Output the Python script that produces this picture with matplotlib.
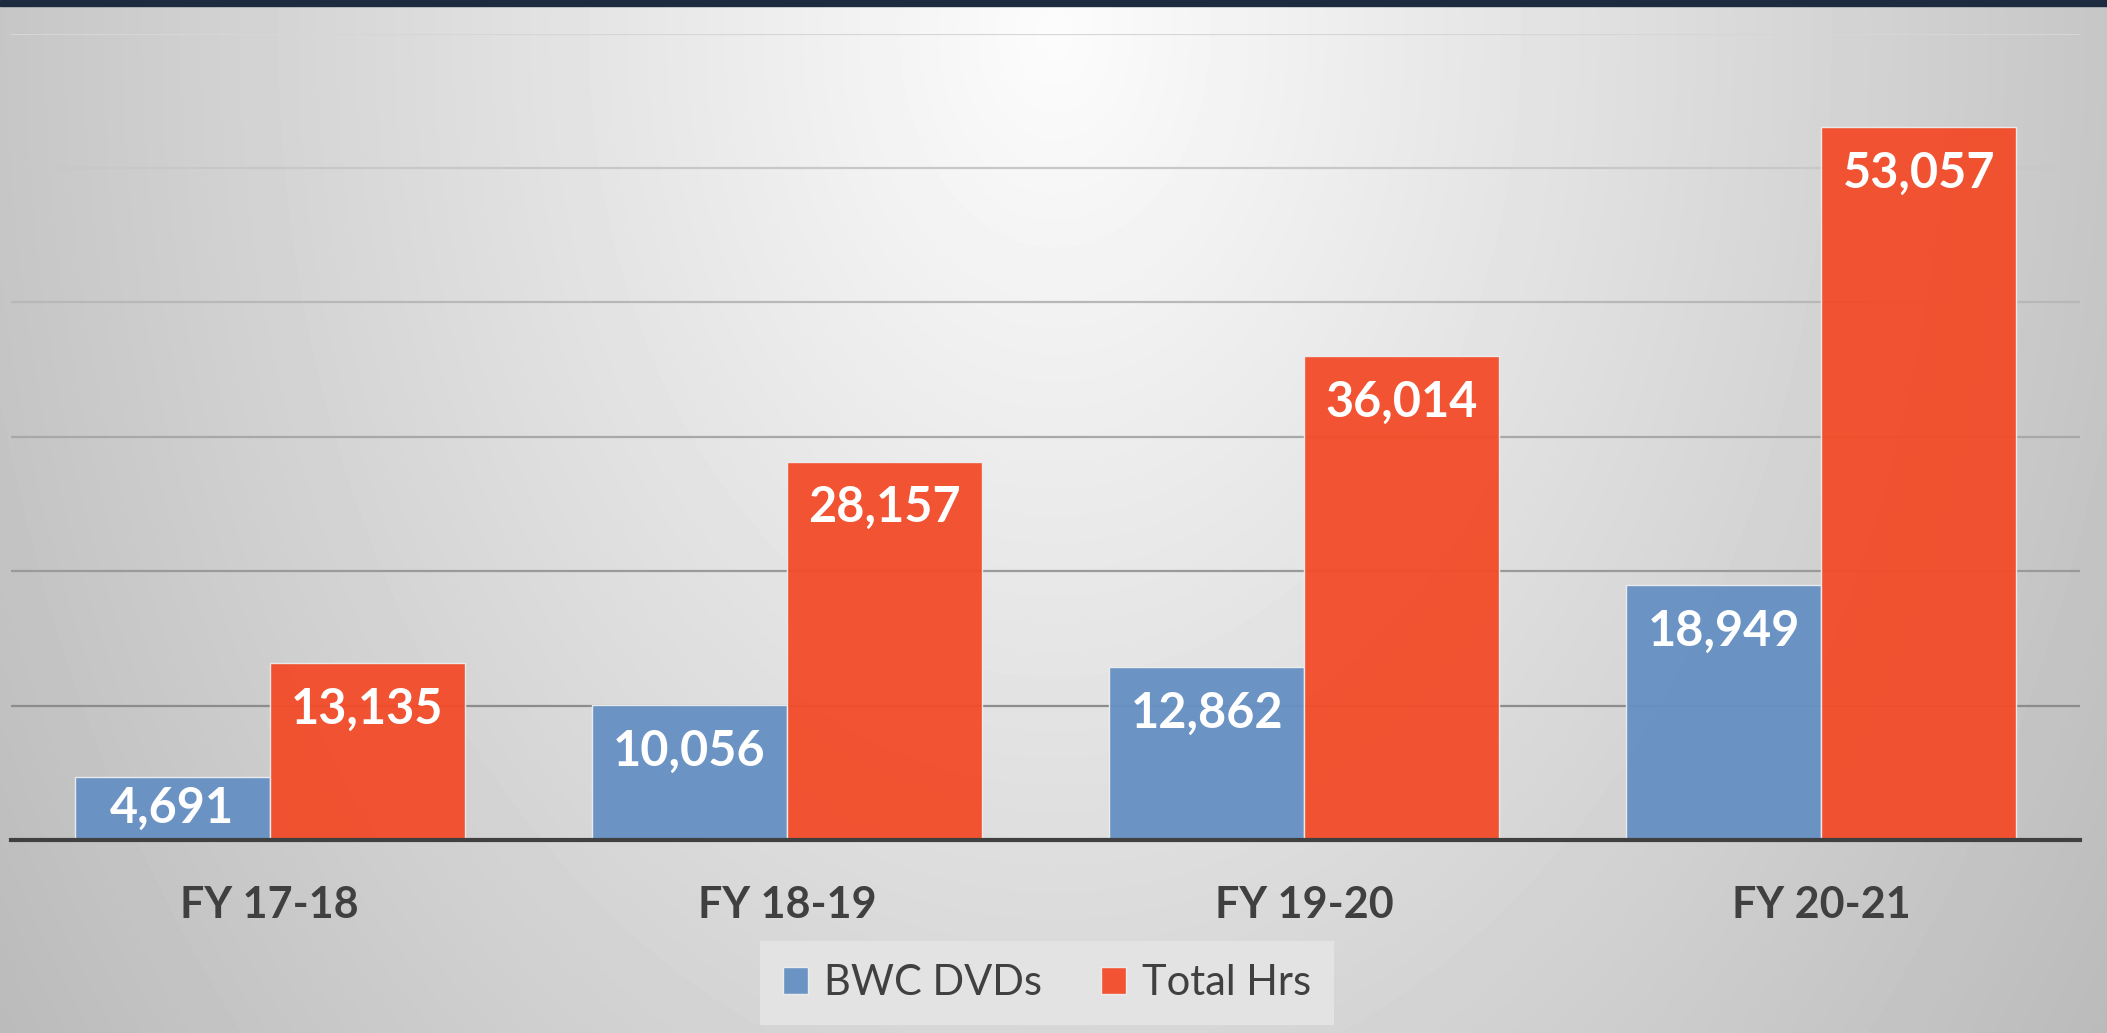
import numpy as np
import matplotlib.pyplot as plt
from matplotlib.patches import Rectangle

# chart data
categories = ['FY 17-18', 'FY 18-19', 'FY 19-20', 'FY 20-21']
bwc_dvds = [4691, 10056, 12862, 18949]
total_hrs = [13135, 28157, 36014, 53057]
series_names = ['BWC DVDs', 'Total Hrs']

blue = '#6590C3'
red = '#F34B28'

W, H, DPI = 2107, 1033, 100
fig = plt.figure(figsize=(W / DPI, H / DPI), dpi=DPI)

# radial grey background, lightest near the top centre
bg = fig.add_axes([0, 0, 1, 1], zorder=-2)
yy, xx = np.mgrid[0:H:4, 0:W:4]
dx = (xx - W * 0.5) / (W * 0.5)
dy = (yy - H * 0.03) / H
d = np.sqrt(dx ** 2 + 0.5 * dy ** 2)
shade = np.clip(252 - 54 * d, 180, 255) / 255.0
bg.imshow(shade, cmap='gray', vmin=0, vmax=1, aspect='auto', interpolation='bilinear')
bg.axis('off')

# dark strip along the top edge
fig.patches.append(Rectangle((0, 1 - 6 / H), 1, 6 / H, transform=fig.transFigure,
                             color='#1c2b40', zorder=5))

ax = fig.add_axes([11 / W, 193 / H, (2080 - 11) / W, (840 - 33.6) / H])
ax.set_facecolor('none')

x = np.arange(len(categories))
bw = 0.377
b1 = ax.bar(x - bw / 2, bwc_dvds, bw, color=blue, alpha=0.95, edgecolor='#eeeeee',
            linewidth=1, label=series_names[0], zorder=3)
b2 = ax.bar(x + bw / 2, total_hrs, bw, color=red, alpha=0.95, edgecolor='#eeeeee',
            linewidth=1, label=series_names[1], zorder=3)

ax.set_xlim(-0.5, len(categories) - 0.5)
ax.set_ylim(0, 60000)
ax.set_yticks(np.arange(0, 60001, 10000))
ax.tick_params(axis='y', left=False, labelleft=False)
ax.tick_params(axis='x', bottom=False, pad=29)
ax.set_xticks(x)
ax.set_xticklabels(categories, fontfamily='Lato', fontweight='bold', fontsize=31, color='#404040')

for s in ['top', 'right', 'left']:
    ax.spines[s].set_visible(False)
ax.spines['bottom'].set_color('#404040')
ax.spines['bottom'].set_linewidth(3)
ax.spines['bottom'].set_zorder(4)

# gridlines, darker toward the bottom like the original
grid_cols = ['#8c8c8c', '#9a9a9a', '#a8a8a8', '#b8b8b8', '#c8c8c8', '#d6d6d6']
for yv, c in zip(np.arange(10000, 60001, 10000), grid_cols):
    ax.axhline(yv, color=c, linewidth=1.6, zorder=1)

# value labels inside the top of each bar
px_per_unit = (840 - 33.6) / 60000
for bars in (b1, b2):
    for r in bars:
        v = r.get_height()
        off = min(46, v * px_per_unit / 2) * 72 / DPI
        ax.annotate(f'{int(v):,}', (r.get_x() + r.get_width() / 2, v),
                    xytext=(0, -off), textcoords='offset points',
                    ha='center', va='center', fontfamily='Lato', fontweight='bold',
                    fontsize=35, color='white', zorder=5)

leg = fig.legend(handles=[b1, b2], loc='center', bbox_to_anchor=(1047 / W, 50 / H),
                 ncol=2, frameon=True, fancybox=False, facecolor='#e3e3e3', edgecolor='none',
                 framealpha=1, prop={'family': 'Lato', 'size': 30}, handlelength=0.6,
                 handleheight=0.6, handletextpad=0.4, columnspacing=1.4,
                 borderpad=0.55, borderaxespad=0, labelcolor='#404040')

fig.savefig('out.png', dpi=DPI)
